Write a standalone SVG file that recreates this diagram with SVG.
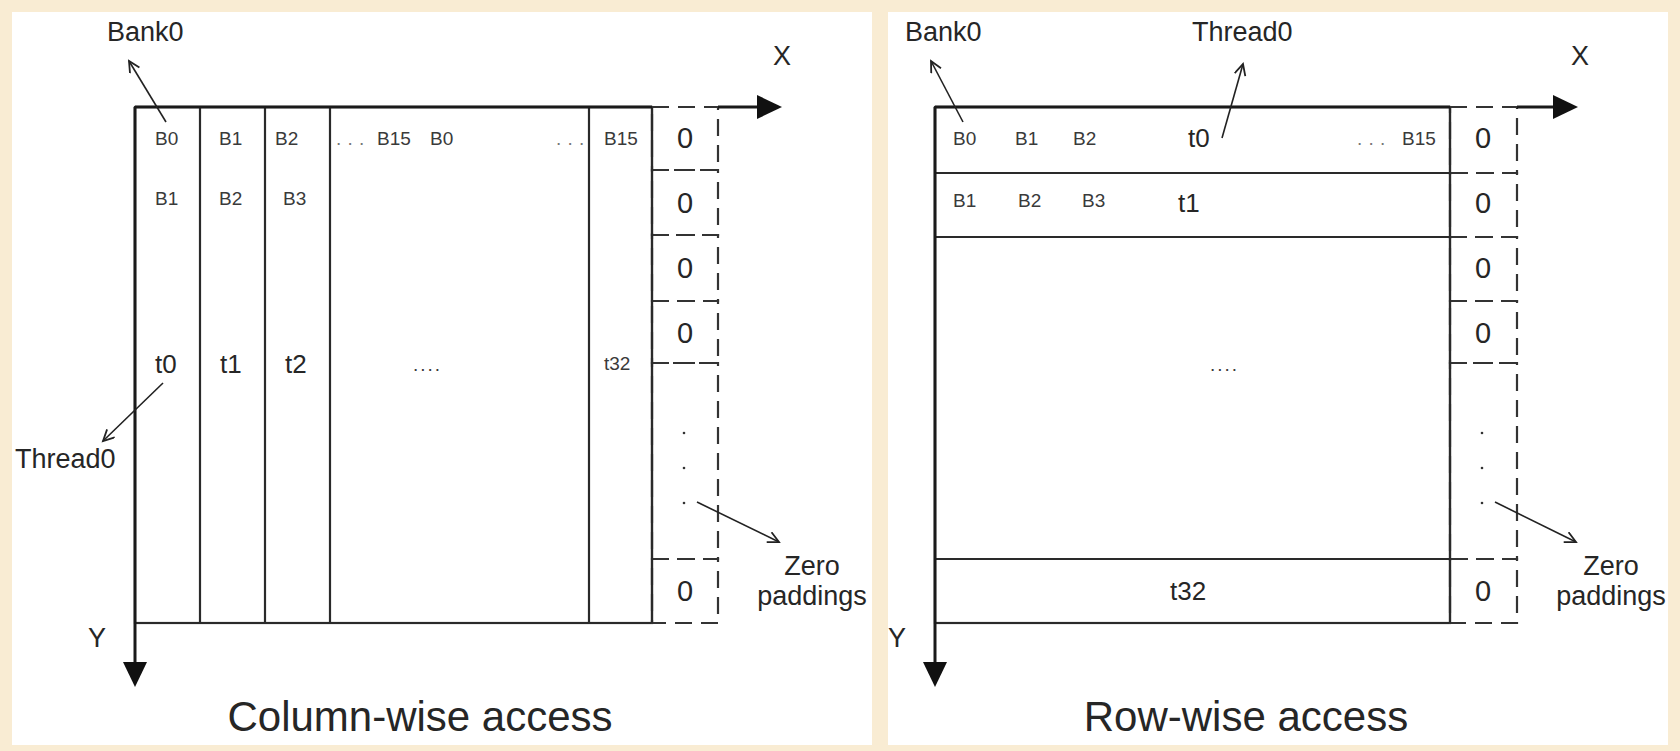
<svg xmlns="http://www.w3.org/2000/svg" width="1680" height="751" viewBox="0 0 1680 751">
<defs>
<style>
.t{font-family:"Liberation Sans",Arial,sans-serif;fill:#262626}
.lab{font-size:27px}
.b{font-size:19px;fill:#3a3a3a}
.dots{font-size:19px;fill:#777}
.tt{font-size:26px}
.z{font-size:29px;text-anchor:middle}
.title{font-size:42px;text-anchor:middle}
.ax{stroke:#1a1a1a;stroke-width:3;fill:none}
.ln{stroke:#2a2a2a;stroke-width:2.2;fill:none}
.pad{stroke:#333;stroke-width:2.2;fill:none;stroke-dasharray:17 9}
.ann{stroke:#222;stroke-width:1.6;fill:none;marker-end:url(#open)}
.head{fill:#111}
</style>
<marker id="open" markerUnits="userSpaceOnUse" markerWidth="16" markerHeight="16" refX="12" refY="6" orient="auto">
<path d="M1,0.5 L12,6 L1,11.5" fill="none" stroke="#222" stroke-width="1.8"/>
</marker>
</defs>
<rect width="1680" height="751" fill="#f9ecd3"/>
<rect x="12" y="12" width="860" height="733" fill="#ffffff"/>
<rect x="888" y="12" width="780" height="733" fill="#ffffff"/>

<!-- LEFT PANEL -->
<g id="left-matrix">
<rect x="135" y="107" width="517" height="516" class="ln"/>
<line x1="200" y1="107" x2="200" y2="623" class="ln"/>
<line x1="265" y1="107" x2="265" y2="623" class="ln"/>
<line x1="330" y1="107" x2="330" y2="623" class="ln"/>
<line x1="589" y1="107" x2="589" y2="623" class="ln"/>
</g>
<g id="left-labels">
<text class="t b" x="155" y="145">B0</text>
<text class="t b" x="219" y="145">B1</text>
<text class="t b" x="275" y="145">B2</text>
<text class="t dots" x="336" y="145" letter-spacing="0.5">. . .</text>
<text class="t b" x="377" y="145">B15</text>
<text class="t b" x="430" y="145">B0</text>
<text class="t dots" x="556" y="145" letter-spacing="0.5">. . .</text>
<text class="t b" x="604" y="145">B15</text>
<text class="t b" x="155" y="205">B1</text>
<text class="t b" x="219" y="205">B2</text>
<text class="t b" x="283" y="205">B3</text>
<text class="t tt" x="155" y="373">t0</text>
<text class="t tt" x="220" y="373">t1</text>
<text class="t tt" x="285" y="373">t2</text>
<text class="t b" x="413" y="371" letter-spacing="2">....</text>
<text class="t b" x="604" y="370">t32</text>
</g>
<g id="left-padding">
<rect x="652" y="107" width="66" height="63" class="pad"/>
<rect x="652" y="170" width="66" height="65" class="pad"/>
<rect x="652" y="235" width="66" height="66" class="pad"/>
<rect x="652" y="301" width="66" height="62" class="pad"/>
<rect x="652" y="363" width="66" height="196" class="pad"/>
<rect x="652" y="559" width="66" height="64" class="pad"/>
<line x1="652" y1="107" x2="652" y2="623" class="ln"/>
<text class="t z" x="685" y="148">0</text>
<text class="t z" x="685" y="213">0</text>
<text class="t z" x="685" y="278">0</text>
<text class="t z" x="685" y="343">0</text>
<text class="t z" x="685" y="601">0</text>
<circle cx="684" cy="433" r="1.3" fill="#333"/>
<circle cx="684" cy="468" r="1.3" fill="#333"/>
<circle cx="684" cy="503" r="1.3" fill="#333"/>
</g>
<g id="left-annotations">
<text class="t lab" x="107" y="41">Bank0</text>
<text class="t lab" x="15" y="468">Thread0</text>
<text class="t lab" x="812" y="575" text-anchor="middle">Zero</text>
<text class="t lab" x="812" y="605" text-anchor="middle">paddings</text>
<text class="t lab" x="782" y="65" text-anchor="middle">X</text>
<text class="t lab" x="97" y="647" text-anchor="middle">Y</text>
<text class="t title" x="420" y="731">Column-wise access</text>
</g>

<!-- RIGHT PANEL -->
<g id="right-matrix">
<rect x="935" y="107" width="515" height="516" class="ln"/>
<line x1="935" y1="173" x2="1450" y2="173" class="ln"/>
<line x1="935" y1="237" x2="1450" y2="237" class="ln"/>
<line x1="935" y1="559" x2="1450" y2="559" class="ln"/>
</g>
<g id="right-labels">
<text class="t b" x="953" y="145">B0</text>
<text class="t b" x="1015" y="145">B1</text>
<text class="t b" x="1073" y="145">B2</text>
<text class="t tt" x="1188" y="147">t0</text>
<text class="t dots" x="1357" y="145" letter-spacing="0.5">. . .</text>
<text class="t b" x="1402" y="145">B15</text>
<text class="t b" x="953" y="207">B1</text>
<text class="t b" x="1018" y="207">B2</text>
<text class="t b" x="1082" y="207">B3</text>
<text class="t tt" x="1178" y="212">t1</text>
<text class="t b" x="1210" y="371" letter-spacing="2">....</text>
<text class="t tt" x="1170" y="600">t32</text>
</g>
<g id="right-padding">
<rect x="1450" y="107" width="67" height="66" class="pad"/>
<rect x="1450" y="173" width="67" height="64" class="pad"/>
<rect x="1450" y="237" width="67" height="64" class="pad"/>
<rect x="1450" y="301" width="67" height="62" class="pad"/>
<rect x="1450" y="363" width="67" height="196" class="pad"/>
<rect x="1450" y="559" width="67" height="64" class="pad"/>
<line x1="1450" y1="107" x2="1450" y2="623" class="ln"/>
<text class="t z" x="1483" y="148">0</text>
<text class="t z" x="1483" y="213">0</text>
<text class="t z" x="1483" y="278">0</text>
<text class="t z" x="1483" y="343">0</text>
<text class="t z" x="1483" y="601">0</text>
<circle cx="1482" cy="433" r="1.3" fill="#333"/>
<circle cx="1482" cy="468" r="1.3" fill="#333"/>
<circle cx="1482" cy="503" r="1.3" fill="#333"/>
</g>
<g id="right-annotations">
<text class="t lab" x="905" y="41">Bank0</text>
<text class="t lab" x="1192" y="41">Thread0</text>
<text class="t lab" x="1611" y="575" text-anchor="middle">Zero</text>
<text class="t lab" x="1611" y="605" text-anchor="middle">paddings</text>
<text class="t lab" x="1580" y="65" text-anchor="middle">X</text>
<text class="t lab" x="897" y="647" text-anchor="middle">Y</text>
<text class="t title" x="1246" y="731">Row-wise access</text>
</g>

<g id="connectors">
<line x1="135" y1="107" x2="652" y2="107" class="ax"/>
<line x1="718" y1="107" x2="760" y2="107" class="ax"/>
<polygon class="head" points="782,107 757,95 757,119"/>
<line x1="135" y1="107" x2="135" y2="665" class="ax"/>
<polygon class="head" points="135,687 123,662 147,662"/>
<line x1="935" y1="107" x2="1450" y2="107" class="ax"/>
<line x1="1517" y1="107" x2="1556" y2="107" class="ax"/>
<polygon class="head" points="1578,107 1553,95 1553,119"/>
<line x1="935" y1="107" x2="935" y2="665" class="ax"/>
<polygon class="head" points="935,687 923,662 947,662"/>
<line x1="166" y1="122" x2="129" y2="61" class="ann"/>
<line x1="163" y1="383" x2="103" y2="441" class="ann"/>
<line x1="697" y1="502" x2="779" y2="542" class="ann"/>
<line x1="963" y1="122" x2="931" y2="61" class="ann"/>
<line x1="1222" y1="138" x2="1243" y2="64" class="ann"/>
<line x1="1495" y1="502" x2="1576" y2="542" class="ann"/>
</g>
</svg>
